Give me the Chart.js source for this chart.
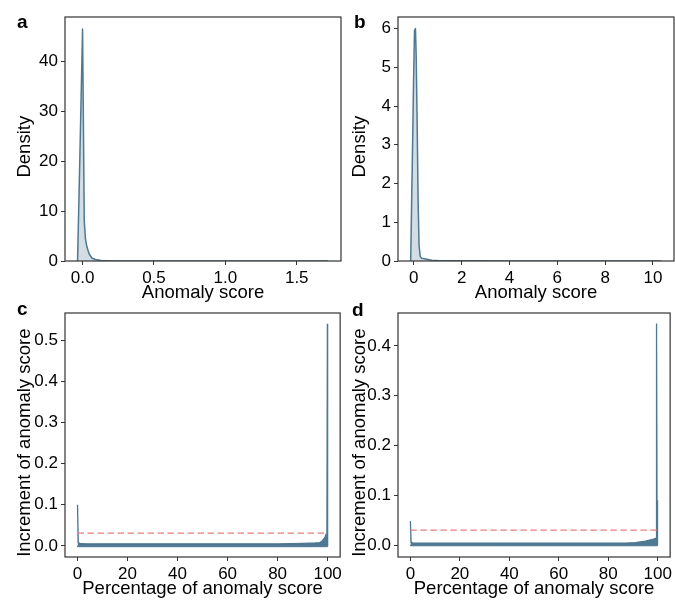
<!DOCTYPE html>
<html>
<head>
<meta charset="utf-8">
<script src="https://cdn.jsdelivr.net/npm/chart.js@4.4.1/dist/chart.umd.min.js"></script>
<style>
    body { margin: 0; background: #fff; }
    #wrap { position: relative; width: 675px; height: 600px; overflow: hidden; }
    .panel { position: absolute; }
    .tag { position: absolute; font: bold 19px "Liberation Sans", Arial, sans-serif; line-height: 19px; color: #000; }
</style>
</head>
<body>
<div id="wrap">
    <div class="panel" style="left:0;top:0;width:345px;height:304px"><canvas id="chartA"></canvas></div>
    <div class="panel" style="left:335px;top:0;width:340px;height:304px"><canvas id="chartB"></canvas></div>
    <div class="panel" style="left:0;top:295px;width:345px;height:305px"><canvas id="chartC"></canvas></div>
    <div class="panel" style="left:335px;top:295px;width:340px;height:305px"><canvas id="chartD"></canvas></div>
    <span class="tag" style="left:17px;top:12px">a</span>
    <span class="tag" style="left:354px;top:12px">b</span>
    <span class="tag" style="left:17px;top:299px">c</span>
    <span class="tag" style="left:352px;top:300px">d</span>
</div>
<script>
// Panel a: density of anomaly score
const kdeAx = [-0.035, -0.018, 0.0, 0.006, 0.012, 0.02, 0.03, 0.045, 0.065, 0.09, 0.13, 0.2, 0.4, 0.8, 1.2, 1.5, 1.72];
const kdeAy = [0, 22, 46.5, 27, 8, 4.5, 2.9, 1.5, 0.6, 0.3, 0.12, 0.05, 0.02, 0.01, 0.005, 0.005, 0];
const xTicksA = [0, 0.5, 1.0, 1.5];
const yTicksA = [0, 10, 20, 30, 40];

// Panel b: density of anomaly score
const kdeBx = [-0.13, -0.09, -0.05, -0.01, 0.03, 0.07, 0.1, 0.14, 0.18, 0.22, 0.27, 0.33, 0.45, 0.6, 0.75, 1.0, 2, 4, 6, 8, 10, 10.35];
const kdeBy = [0, 1.5, 3.0, 4.6, 5.95, 6.0, 5.3, 3.6, 1.6, 0.4, 0.12, 0.07, 0.06, 0.04, 0.02, 0.01, 0.005, 0.003, 0.003, 0.002, 0.002, 0];
const xTicksB = [0, 2, 4, 6, 8, 10];
const yTicksB = [0, 1, 2, 3, 4, 5, 6];

// Panel c: increment of anomaly score (upper / lower edge of the noisy band)
const pctC = [0, 0.05, 0.3, 1, 3, 10, 20, 30, 40, 50, 60, 70, 80, 90, 95, 96.9, 97.8, 98.3, 98.9, 99.3, 99.5, 99.7, 99.9, 100, 100];
const incCHigh = [0.1, 0.1, 0.008, 0.006, 0.005, 0.005, 0.005, 0.005, 0.005, 0.005, 0.005, 0.005, 0.005, 0.006, 0.007, 0.008, 0.012, 0.016, 0.02, 0.027, 0.025, 0.03, 0.54, 0.15, 0];
const incCLow = [0, -0.002, -0.002, -0.002, -0.002, -0.002, -0.002, -0.002, -0.002, -0.002, -0.002, -0.002, -0.002, -0.002, -0.002, -0.002, -0.002, -0.002, -0.002, -0.002, -0.002, -0.002, -0.002, -0.002, 0];
const thresholdC = 0.031;
const yTicksC = [0, 0.1, 0.2, 0.3, 0.4, 0.5];

// Panel d: increment of anomaly score
const pctD = [0, 0.05, 0.3, 1, 3, 10, 20, 30, 40, 50, 60, 70, 80, 87, 91, 95, 98.3, 99.3, 99.5, 99.7, 99.8, 100];
const incDHigh = [0.048, 0.048, 0.006, 0.004, 0.004, 0.004, 0.004, 0.004, 0.004, 0.004, 0.004, 0.004, 0.004, 0.004, 0.005, 0.008, 0.012, 0.014, 0.445, 0.09, 0.013, 0];
const incDLow = [0, -0.0015, -0.0015, -0.0015, -0.0015, -0.0015, -0.0015, -0.0015, -0.0015, -0.0015, -0.0015, -0.0015, -0.0015, -0.0015, -0.0015, -0.0015, -0.0015, -0.0015, -0.0015, -0.0015, -0.0015, 0];
const thresholdD = 0.03;
const yTicksD = [0, 0.1, 0.2, 0.3, 0.4];

const xTicksPct = [0, 20, 40, 60, 80, 100];

const LINE = '#4f7892';
const FILL = 'rgba(79, 120, 146, 0.25)';
const RED = '#e57f7f';
const FONT = '"Liberation Sans", Arial, sans-serif';

Chart.defaults.font.family = FONT;
Chart.defaults.color = '#000';

// box around the plot area
const framePlugin = {
    id: 'frame',
    afterDraw(chart) {
        const a = chart.chartArea;
        const ctx = chart.ctx;
        ctx.save();
        ctx.strokeStyle = '#333';
        ctx.lineWidth = 1.2;
        ctx.strokeRect(a.left, a.top, a.right - a.left, a.bottom - a.top);
        ctx.restore();
    }
};

function pts(xs, ys) {
    return xs.map((x, i) => ({ x: x, y: ys[i] }));
}

function axis(min, max, ticks, digits, title, isY, size) {
    return {
        type: 'linear',
        min: min,
        max: max,
        afterBuildTicks: (scale) => { scale.ticks = ticks.map(v => ({ value: v })); },
        afterFit: (scale) => { if (isY) scale.width = size; else scale.height = size; },
        ticks: {
            font: { size: 17 },
            color: '#000',
            padding: 3,
            maxRotation: 0,
            callback: (v) => Number(v).toFixed(digits)
        },
        grid: { drawOnChartArea: false, drawTicks: true, tickLength: 4, color: '#333' },
        border: { display: false },
        title: {
            display: true,
            // trailing spaces nudge the rotated y title down a little, like the original
            text: isY ? title + '   ' : title,
            font: { size: 18.5 },
            color: '#000',
            padding: isY ? { top: 14, bottom: 0 } : { top: 0, bottom: 0 }
        }
    };
}

function makeChart(id, datasets, xs, ys, pad) {
    new Chart(document.getElementById(id), {
        type: 'line',
        data: { datasets: datasets },
        options: {
            responsive: true,
            maintainAspectRatio: false,
            animation: false,
            layout: { padding: pad },
            plugins: { legend: { display: false }, tooltip: { enabled: false } },
            scales: { x: xs, y: ys }
        },
        plugins: [framePlugin]
    });
}

function kdeSet(xs, ys) {
    return {
        data: pts(xs, ys),
        borderColor: LINE,
        backgroundColor: FILL,
        borderWidth: 1.5,
        borderJoinStyle: 'round',
        pointRadius: 0,
        tension: 0,
        fill: 'origin'
    };
}

function bandSets(xs, high, low, thr) {
    return [
        {
            data: pts([0, 100], [thr, thr]),
            borderColor: RED,
            borderWidth: 1.2,
            borderDash: [6.5, 3.5],
            pointRadius: 0,
            fill: false
        },
        {
            data: pts(xs, high),
            borderColor: LINE,
            backgroundColor: LINE,
            borderWidth: 1.3,
            pointRadius: 0,
            tension: 0,
            fill: '+1'
        },
        {
            data: pts(xs, low),
            borderColor: LINE,
            borderWidth: 1,
            pointRadius: 0,
            tension: 0,
            fill: false
        }
    ];
}

makeChart('chartA', [kdeSet(kdeAx, kdeAy)],
    axis(-0.123, 1.81, xTicksA, 1, 'Anomaly score', false, 43),
    axis(0, 48.9, yTicksA, 0, 'Density', true, 65),
    { top: 17, right: 4, left: 0, bottom: 0 });

makeChart('chartB', [kdeSet(kdeBx, kdeBy)],
    axis(-0.66, 10.88, xTicksB, 0, 'Anomaly score', false, 43),
    axis(0, 6.3, yTicksB, 0, 'Density', true, 63),
    { top: 17, right: 1, left: 0, bottom: 0 });

makeChart('chartC', bandSets(pctC, incCHigh, incCLow, thresholdC),
    axis(-5, 105, xTicksPct, 0, 'Percentage of anomaly score', false, 43),
    axis(-0.027, 0.566, yTicksC, 1, 'Increment of anomaly score', true, 65),
    { top: 18, right: 4, left: 0, bottom: 0 });

makeChart('chartD', bandSets(pctD, incDHigh, incDLow, thresholdD),
    axis(-5, 105, xTicksPct, 0, 'Percentage of anomaly score', false, 43),
    axis(-0.024, 0.466, yTicksD, 1, 'Increment of anomaly score', true, 63),
    { top: 18, right: 1, left: 0, bottom: 0 });
</script>
</body>
</html>
